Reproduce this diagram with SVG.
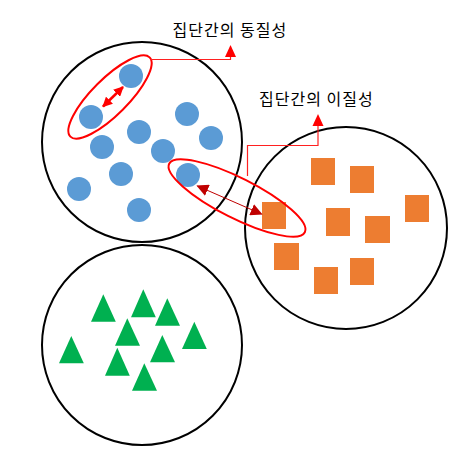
<svg xmlns="http://www.w3.org/2000/svg" width="470" height="452" viewBox="0 0 470 452">
<defs>
<style>
.grp{fill:#fff;stroke:#000;stroke-width:2}
.dot{fill:#5b9bd5}
.sq{fill:#ed7d31}
.tri{fill:#00b050}
.ring{fill:none;stroke:#ff0000;stroke-width:2}
.lead{fill:none;stroke:#ff2020;stroke-width:1.2}
.lbl{font-family:"Noto Sans CJK KR","Noto Sans",sans-serif;font-size:16px;letter-spacing:1px;fill:#000}
</style>
<marker id="ahR" viewBox="0 0 10 10" refX="9" refY="5" markerWidth="4" markerHeight="4" orient="auto-start-reverse" markerUnits="strokeWidth"><path d="M0,0 L10,5 L0,10 Z" fill="#ff0000"/></marker>
<marker id="ahD" viewBox="0 0 10 10" refX="9" refY="5" markerWidth="12" markerHeight="12" orient="auto-start-reverse" markerUnits="strokeWidth"><path d="M0,0 L10,5 L0,10 Z" fill="#c00000"/></marker>
</defs>
<rect width="470" height="452" fill="#fff"/>
<g id="group-blue">
<circle class="grp" cx="142" cy="142" r="100"/>
<circle class="dot" cx="131" cy="76" r="12"/>
<circle class="dot" cx="91" cy="117" r="12"/>
<circle class="dot" cx="187" cy="114" r="12"/>
<circle class="dot" cx="139" cy="132" r="12"/>
<circle class="dot" cx="211" cy="138" r="12"/>
<circle class="dot" cx="102" cy="147" r="12"/>
<circle class="dot" cx="163" cy="151" r="12"/>
<circle class="dot" cx="121" cy="174" r="12"/>
<circle class="dot" cx="188" cy="175" r="12"/>
<circle class="dot" cx="79" cy="189" r="12"/>
<circle class="dot" cx="139" cy="210" r="12"/>
</g>
<g id="group-orange">
<circle class="grp" cx="346" cy="228" r="101"/>
<rect class="sq" x="311" y="158" width="24" height="27"/>
<rect class="sq" x="350" y="166" width="24" height="27"/>
<rect class="sq" x="405" y="195" width="24" height="27"/>
<rect class="sq" x="262" y="202" width="24" height="27"/>
<rect class="sq" x="326" y="208" width="24" height="28"/>
<rect class="sq" x="365" y="216" width="25" height="27"/>
<rect class="sq" x="274" y="243" width="25" height="27"/>
<rect class="sq" x="350" y="258" width="24" height="27"/>
<rect class="sq" x="314" y="267" width="24" height="27"/>
</g>
<g id="group-green">
<circle class="grp" cx="142" cy="345" r="100"/>
<polygon class="tri" points="103.3,294.3 115.8,321.7 91,321.7"/>
<polygon class="tri" points="143.3,289.3 155.8,317.3 131,317.3"/>
<polygon class="tri" points="167.3,298.3 180,325.7 155,325.7"/>
<polygon class="tri" points="127.3,318.3 140,345.7 115,345.7"/>
<polygon class="tri" points="194.3,321.7 206.8,349 182,349"/>
<polygon class="tri" points="71.3,336 83.8,363.3 59,363.3"/>
<polygon class="tri" points="162.3,335 175,362.3 150,362.3"/>
<polygon class="tri" points="117.3,347.7 129.8,375.7 105,375.7"/>
<polygon class="tri" points="144.3,363.3 157,390.7 132,390.7"/>
</g>
<g id="homogeneity-ring">
<ellipse class="ring" cx="110" cy="97" rx="56" ry="18" transform="rotate(-45 110 97)"/>
</g>
<g id="heterogeneity-ring">
<ellipse class="ring" cx="237" cy="198" rx="76" ry="20" transform="rotate(26.8 237 198)"/>
</g>
<g id="label-homogeneity">
<text class="lbl" x="172.5" y="36">집단간의 동질성</text>
</g>
<g id="label-heterogeneity">
<text class="lbl" x="259" y="105">집단간의 이질성</text>
</g>
<g id="connectors">
<line x1="103" y1="106.5" x2="123" y2="87" stroke="#ff0000" stroke-width="2.5" marker-start="url(#ahR)" marker-end="url(#ahR)"/>
<line x1="197.5" y1="186" x2="261.5" y2="214" stroke="#c00000" stroke-width="1" marker-start="url(#ahD)" marker-end="url(#ahD)"/>
<polyline class="lead" points="150,59.5 230.5,59.5 230.5,56"/>
<polygon points="230.5,45 236,57 225,57" fill="#ff0000"/>
<polyline class="lead" points="247.5,176 247.5,145.5 318,145.5 318,125"/>
<polygon points="318,114 323.5,126 312.5,126" fill="#ff0000"/>
</g>
</svg>
